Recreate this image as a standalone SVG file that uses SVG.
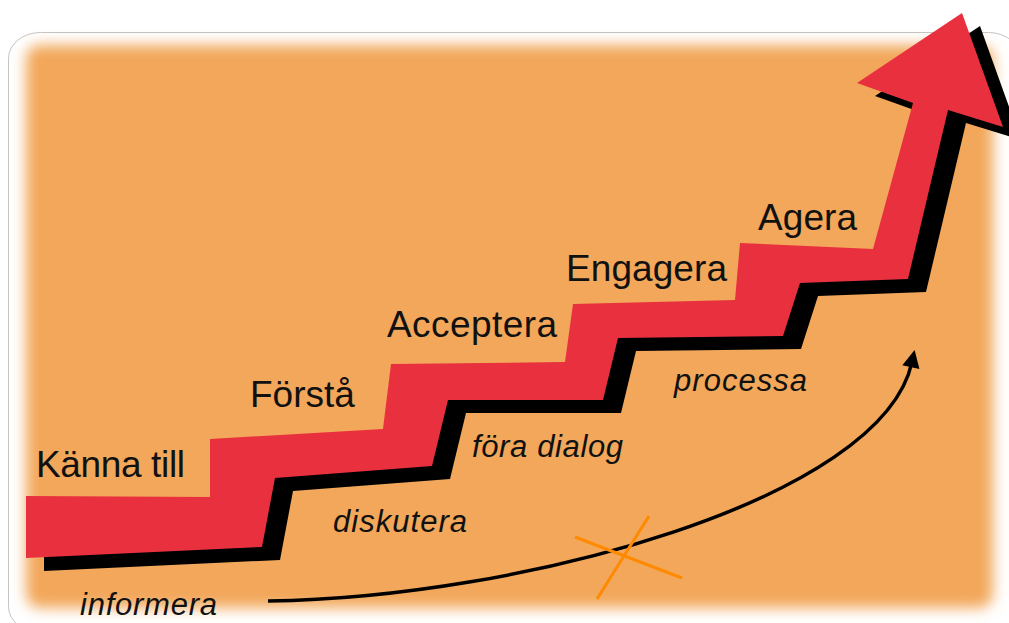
<svg xmlns="http://www.w3.org/2000/svg" xmlns:xlink="http://www.w3.org/1999/xlink" width="1009" height="623" viewBox="0 0 1009 623">
  <style>
    .step { font-family: "Liberation Sans", Arial, sans-serif; font-size: 37px; fill: #111; }
    .act { font-family: "Liberation Sans", Arial, sans-serif; font-size: 31px; font-style: italic; fill: #111; }
    .cross { stroke: #FF8A00; stroke-width: 3; fill: none; }
    .flow { stroke: #000; stroke-width: 3.5; fill: none; }
  </style>
  <defs>
    <filter id="soft" x="-5%" y="-5%" width="110%" height="110%">
      <feGaussianBlur stdDeviation="7"/>
    </filter>
    <marker id="head" viewBox="0 0 10 10" refX="3" refY="5" markerWidth="6" markerHeight="5" orient="auto" markerUnits="strokeWidth">
      <path d="M0,0 L10,5 L0,10 Z" fill="#000"/>
    </marker>
    <path id="stair" d="M26,496 L210,497 L210,439 L383,429 L391,364 L565,362 L573,304 L735,300 L740,243 L873,249 L913,103 L857,83 L962,13 L1003,127 L948,110 L908,279 L800,283 L783,336 L618,338 L603,400 L448,400 L432,466 L275,478 L262,547 L26,558 Z"/>
  </defs>

  <g id="background">
    <rect x="0" y="0" width="1009" height="623" fill="#fff"/>
    <rect x="8.5" y="32.5" width="1012" height="600" rx="32" ry="26" fill="#fff" stroke="#c4c4c4" stroke-width="1"/>
    <rect x="26" y="45" width="967" height="563" rx="14" fill="#F2A75A" filter="url(#soft)"/>
  </g>

  <g id="staircase">
    <use xlink:href="#stair" href="#stair" transform="translate(18,13)" fill="#000"/>
    <use xlink:href="#stair" href="#stair" fill="#E8303E"/>
  </g>

  <g id="connectors">
    <path class="flow" d="M268,601 C520,598 882,500 912,362" marker-end="url(#head)"/>
    <line class="cross" x1="575" y1="537" x2="682" y2="578"/>
    <line class="cross" x1="649" y1="516" x2="597" y2="599"/>
  </g>

  <g id="label-kanna-till"><text class="step" x="36" y="477" textLength="149">Känna till</text></g>
  <g id="label-forsta"><text class="step" x="250" y="407">Förstå</text></g>
  <g id="label-acceptera"><text class="step" x="387" y="337" textLength="170">Acceptera</text></g>
  <g id="label-engagera"><text class="step" x="566" y="281" textLength="161">Engagera</text></g>
  <g id="label-agera"><text class="step" x="758" y="230" textLength="99">Agera</text></g>

  <g id="label-informera"><text class="act" x="80" y="615" textLength="137">informera</text></g>
  <g id="label-diskutera"><text class="act" x="333" y="532" textLength="134">diskutera</text></g>
  <g id="label-fora-dialog"><text class="act" x="472" y="457" textLength="151">föra dialog</text></g>
  <g id="label-processa"><text class="act" x="674" y="391" textLength="133">processa</text></g>
</svg>
